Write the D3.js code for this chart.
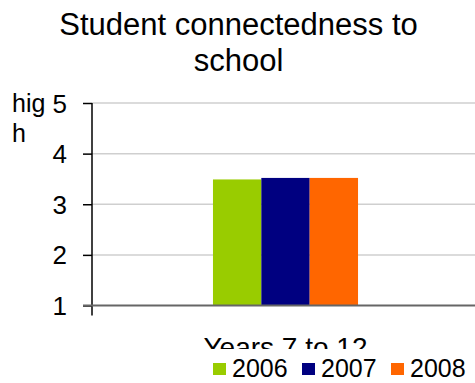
<!DOCTYPE html>
<html>
<head>
<meta charset="utf-8">
<script src="https://cdn.jsdelivr.net/npm/d3@7"></script>
<style>
  html, body { margin: 0; padding: 0; background: #fff; overflow: hidden; }
  svg { display: block; font-family: "Liberation Sans", Arial, sans-serif; }
</style>
</head>
<body>
<svg id="chart" width="475" height="383"></svg>
<script>
// Chart data
const titleLines = ["Student connectedness to", "school"];
const categories = ["Years 7 to 12"];
const seriesNames = ["2006", "2007", "2008"];
const seriesValues = [3.49, 3.52, 3.52];
const seriesColors = ["#99cc00", "#000080", "#ff6600"];
const yTicks = [1, 2, 3, 4, 5];
const yLabelLines = ["hig", "h"];

const svg = d3.select("#chart");
const W = 475, H = 383;
const plot = { left: 92, right: 479, top: 103, bottom: 305.5 };

const y = d3.scaleLinear().domain([1, 5]).range([plot.bottom, plot.top]);
// The bar group fills the middle of the single category slot
const x0 = d3.scaleBand().domain(categories).range([plot.left, plot.right]).paddingInner(0).paddingOuter(0.834);
const x1 = d3.scaleBand().domain(seriesNames).range([0, x0.bandwidth()]).padding(0);

// Title
svg.append("g").selectAll("text").data(titleLines).join("text")
  .attr("x", 238.5)
  .attr("y", (d, i) => 35 + i * 36)
  .attr("text-anchor", "middle")
  .attr("font-size", 31)
  .attr("fill", "#000")
  .text(d => d);

// Gridlines
svg.append("g").selectAll("line").data(yTicks.filter(t => t > 1)).join("line")
  .attr("x1", plot.left).attr("x2", plot.right)
  .attr("y1", d => y(d)).attr("y2", d => y(d))
  .attr("stroke", "#cfcfcf").attr("stroke-width", 1.5);

// Bars
const groups = svg.append("g").selectAll("g").data(categories).join("g")
  .attr("transform", d => `translate(${x0(d)},0)`);
groups.selectAll("rect")
  .data(() => seriesNames.map((s, i) => ({ s, v: seriesValues[i], c: seriesColors[i] })))
  .join("rect")
  .attr("x", d => x1(d.s))
  .attr("width", x1.bandwidth())
  .attr("y", d => y(d.v))
  .attr("height", d => y(1) - y(d.v))
  .attr("fill", d => d.c);

// Y axis
const yAxis = d3.axisLeft(y).tickValues(yTicks).tickSize(9).tickPadding(16).tickFormat(d3.format("d"));
const gy = svg.append("g").attr("transform", `translate(${plot.left},0)`).call(yAxis);
gy.select(".domain").remove();
gy.selectAll(".tick line").attr("stroke", "#000").attr("stroke-width", 1.5);
gy.selectAll(".tick text").attr("font-size", 26).attr("fill", "#000")
  .attr("font-family", "Liberation Sans, Arial, sans-serif").attr("dy", "0.35em");
gy.append("line").attr("x1", 0).attr("x2", 0)
  .attr("y1", plot.top).attr("y2", plot.bottom + 10)
  .attr("stroke", "#000").attr("stroke-width", 1.5);

// X axis baseline
svg.append("line")
  .attr("x1", plot.left - 9).attr("x2", plot.right)
  .attr("y1", y(1)).attr("y2", y(1))
  .attr("stroke", "#666").attr("stroke-width", 2);

// Category label, clipped by the legend band below it
svg.append("clipPath").attr("id", "catClip")
  .append("rect").attr("x", 0).attr("y", 0).attr("width", W).attr("height", 349);
svg.append("g").attr("clip-path", "url(#catClip)")
  .selectAll("text").data(categories).join("text")
  .attr("x", d => x0(d) + x0.bandwidth() / 2)
  .attr("y", 357)
  .attr("text-anchor", "middle")
  .attr("font-size", 28)
  .attr("fill", "#000")
  .text(d => d);

// Y axis title
svg.append("g").selectAll("text").data(yLabelLines).join("text")
  .attr("x", 12)
  .attr("y", (d, i) => 111.5 + i * 30)
  .attr("font-size", 25)
  .attr("fill", "#000")
  .text(d => d);

// Legend
const legend = svg.append("g").selectAll("g").data(seriesNames).join("g")
  .attr("transform", (d, i) => `translate(${213 + i * 89},0)`);
legend.append("rect")
  .attr("x", 0).attr("y", 363).attr("width", 13).attr("height", 12)
  .attr("fill", (d, i) => seriesColors[i]);
legend.append("text")
  .attr("x", 19).attr("y", 377)
  .attr("font-size", 25).attr("fill", "#000")
  .text(d => d);
</script>
</body>
</html>
